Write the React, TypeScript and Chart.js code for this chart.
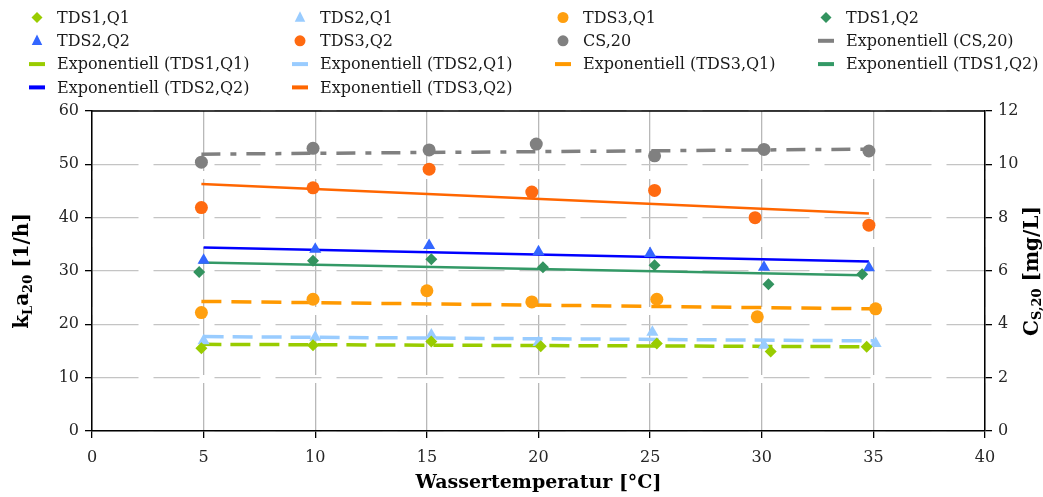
import React, { useEffect, useRef } from 'react';
import { Chart, registerables } from 'chart.js';

Chart.register(...registerables);

const FONT = '"DejaVu Serif", serif';

// ---- data ----
const xTDS1Q1 = [4.9, 9.9, 15.2, 20.1, 25.3, 30.4, 34.7];
const yTDS1Q1 = [15.5, 16.1, 16.8, 15.9, 16.4, 14.9, 15.8];
const xTDS2Q1 = [5.0, 10.0, 15.2, 20.0, 25.1, 30.1, 35.1];
const yTDS2Q1 = [16.9, 17.6, 18.0, 16.6, 18.5, 16.1, 16.4];
const xTDS3Q1 = [4.9, 9.9, 15.0, 19.7, 25.3, 29.8, 35.1];
const yTDS3Q1 = [22.2, 24.7, 26.3, 24.2, 24.7, 21.4, 22.9];
const xTDS1Q2 = [4.8, 9.9, 15.2, 20.2, 25.2, 30.3, 34.5];
const yTDS1Q2 = [29.8, 31.9, 32.2, 30.7, 31.1, 27.5, 29.4];
const xTDS2Q2 = [5.0, 10.0, 15.1, 20.0, 25.0, 30.1, 34.8];
const yTDS2Q2 = [32.0, 34.1, 34.8, 33.6, 33.3, 30.7, 30.6];
const xTDS3Q2 = [4.9, 9.9, 15.1, 19.7, 25.2, 29.7, 34.8];
const yTDS3Q2 = [41.9, 45.6, 49.1, 44.8, 45.1, 40.0, 38.6];
const xCS = [4.9, 9.9, 15.1, 19.9, 25.2, 30.1, 34.8];
const yCS = [10.08, 10.6, 10.54, 10.76, 10.32, 10.56, 10.5];

// exponential trend lines: value at the first and at the last temperature
const trendCS = [10.38, 10.57];
const trendTDS1Q1 = [16.25, 15.8];
const trendTDS2Q1 = [17.7, 16.9];
const trendTDS3Q1 = [24.3, 22.9];
const trendTDS1Q2 = [31.6, 29.2];
const trendTDS2Q2 = [34.4, 31.8];
const trendTDS3Q2 = [46.3, 40.8];

const xTicksStep = 5;
const yLeftRange = [0, 60];
const yRightRange = [0, 12];
const xRange = [0, 40];

const xTitle = 'Wassertemperatur [°C]';
const yLeftTitle = [
  { t: 'k', sub: false },
  { t: 'L', sub: true },
  { t: 'a', sub: false },
  { t: '20', sub: true },
  { t: ' [1/h]', sub: false },
];
const yRightTitle = [
  { t: 'C', sub: false },
  { t: 'S,20', sub: true },
  { t: ' [mg/L]', sub: false },
];

type Marker = {
  label: string; xs: number[]; ys: number[]; style: string; color: string; r: number; axis: string;
};
type Trend = {
  label: string; xs: number[]; t: number[]; color: string; width: number; dash: number[]; axis: string;
};

const markers: Marker[] = [
  { label: 'TDS1,Q1', xs: xTDS1Q1, ys: yTDS1Q1, style: 'rectRot', color: '#99cc00', r: 6, axis: 'y' },
  { label: 'TDS2,Q1', xs: xTDS2Q1, ys: yTDS2Q1, style: 'triangle', color: '#99ccff', r: 7, axis: 'y' },
  { label: 'TDS3,Q1', xs: xTDS3Q1, ys: yTDS3Q1, style: 'circle', color: '#ff9f0f', r: 6.5, axis: 'y' },
  { label: 'TDS1,Q2', xs: xTDS1Q2, ys: yTDS1Q2, style: 'rectRot', color: '#33935f', r: 6, axis: 'y' },
  { label: 'TDS2,Q2', xs: xTDS2Q2, ys: yTDS2Q2, style: 'triangle', color: '#3366ff', r: 7, axis: 'y' },
  { label: 'TDS3,Q2', xs: xTDS3Q2, ys: yTDS3Q2, style: 'circle', color: '#ff6a10', r: 6.5, axis: 'y' },
  { label: 'CS,20', xs: xCS, ys: yCS, style: 'circle', color: '#808080', r: 6.5, axis: 'y2' },
];

const trends: Trend[] = [
  { label: 'Exponentiell (CS,20)', xs: xCS, t: trendCS, color: '#808080', width: 3.5, dash: [19, 10, 6, 10], axis: 'y2' },
  { label: 'Exponentiell (TDS1,Q1)', xs: xTDS1Q1, t: trendTDS1Q1, color: '#99cc00', width: 3.5, dash: [20, 9], axis: 'y' },
  { label: 'Exponentiell (TDS2,Q1)', xs: xTDS2Q1, t: trendTDS2Q1, color: '#99ccff', width: 3.5, dash: [20, 9], axis: 'y' },
  { label: 'Exponentiell (TDS3,Q1)', xs: xTDS3Q1, t: trendTDS3Q1, color: '#ff9900', width: 3.5, dash: [20, 10], axis: 'y' },
  { label: 'Exponentiell (TDS1,Q2)', xs: xTDS1Q2, t: trendTDS1Q2, color: '#339966', width: 2.5, dash: [], axis: 'y' },
  { label: 'Exponentiell (TDS2,Q2)', xs: xTDS2Q2, t: trendTDS2Q2, color: '#0000ff', width: 2.5, dash: [], axis: 'y' },
  { label: 'Exponentiell (TDS3,Q2)', xs: xTDS3Q2, t: trendTDS3Q2, color: '#ff6600', width: 2.5, dash: [], axis: 'y' },
];

function drawShape(ctx: CanvasRenderingContext2D, style: string, x: number, y: number, r: number, color: string) {
  ctx.save();
  ctx.fillStyle = color;
  ctx.beginPath();
  if (style === 'circle') {
    ctx.arc(x, y, r, 0, Math.PI * 2);
  } else if (style === 'rectRot') {
    ctx.moveTo(x, y - r);
    ctx.lineTo(x + r, y);
    ctx.lineTo(x, y + r);
    ctx.lineTo(x - r, y);
    ctx.closePath();
  } else {
    const h = r * 1.5;
    ctx.moveTo(x, y - h * 0.6);
    ctx.lineTo(x + r * 0.75, y + h * 0.4);
    ctx.lineTo(x - r * 0.75, y + h * 0.4);
    ctx.closePath();
  }
  ctx.fill();
  ctx.restore();
}

function drawRich(ctx: CanvasRenderingContext2D, parts: { t: string; sub: boolean }[], size: number, subSize: number, subDrop: number) {
  const big = `bold ${size}px ${FONT}`;
  const small = `bold ${subSize}px ${FONT}`;
  let w = 0;
  parts.forEach((p) => {
    ctx.font = p.sub ? small : big;
    w += ctx.measureText(p.t).width;
  });
  let x = -w / 2;
  ctx.textBaseline = 'alphabetic';
  ctx.textAlign = 'left';
  parts.forEach((p) => {
    ctx.font = p.sub ? small : big;
    ctx.fillText(p.t, x, p.sub ? subDrop : 0);
    x += ctx.measureText(p.t).width;
  });
}

const customPlugin = {
  id: 'customDecor',
  afterDraw(chart: any) {
    const ctx: CanvasRenderingContext2D = chart.ctx;
    const a = chart.chartArea;
    // top frame line
    ctx.save();
    ctx.strokeStyle = '#000';
    ctx.lineWidth = 1.5;
    ctx.beginPath();
    ctx.moveTo(a.left, a.top);
    ctx.lineTo(a.right, a.top);
    ctx.stroke();
    ctx.restore();

    // axis titles with subscripts
    const cy = (a.top + a.bottom) / 2;
    ctx.save();
    ctx.fillStyle = '#000';
    ctx.translate(28, cy);
    ctx.rotate(-Math.PI / 2);
    drawRich(ctx, yLeftTitle, 20, 13, 4);
    ctx.restore();

    ctx.save();
    ctx.fillStyle = '#000';
    ctx.translate(chart.width - 5, cy);
    ctx.rotate(-Math.PI / 2);
    drawRich(ctx, yRightTitle, 20, 13, 3);
    ctx.restore();

    // legend in a 4-column grid
    const items: { label: string; kind: string; style?: string; color: string }[] = [];
    markers.forEach((m) => items.push({ label: m.label, kind: 'point', style: m.style, color: m.color }));
    trends.forEach((t) => items.push({ label: t.label, kind: 'line', color: t.color }));
    const colW = 263;
    const rowH = 23.3;
    ctx.save();
    ctx.font = `16px ${FONT}`;
    ctx.textBaseline = 'middle';
    ctx.textAlign = 'left';
    items.forEach((it, i) => {
      const c = i % 4;
      const r = Math.floor(i / 4);
      const mx = 37 + c * colW;
      const my = 17.5 + r * rowH;
      if (it.kind === 'point') {
        const rad = it.style === 'triangle' ? 7 : 5.5;
        drawShape(ctx, it.style as string, mx, my, rad, it.color);
      } else {
        ctx.fillStyle = it.color;
        ctx.fillRect(mx - 8, my - 2, 16, 4);
      }
      ctx.fillStyle = '#1a1a1a';
      ctx.fillText(it.label, mx + 20, my + 1);
    });
    ctx.restore();
  },
};

export default function App() {
  const ref = useRef<HTMLCanvasElement>(null);

  useEffect(() => {
    if (!ref.current) return;
    const datasets: any[] = [];
    markers.forEach((m) => {
      datasets.push({
        type: 'scatter',
        label: m.label,
        data: m.xs.map((x, i) => ({ x, y: m.ys[i] })),
        pointStyle: m.style,
        pointRadius: m.r,
        backgroundColor: m.color,
        borderColor: m.color,
        borderWidth: 0,
        showLine: false,
        yAxisID: m.axis,
        order: 0,
      });
    });
    trends.forEach((t) => {
      const x0 = Math.min(...t.xs);
      const x1 = Math.max(...t.xs);
      datasets.push({
        type: 'scatter',
        label: t.label,
        data: [
          { x: x0, y: t.t[0] },
          { x: x1, y: t.t[1] },
        ],
        showLine: true,
        pointRadius: 0,
        borderColor: t.color,
        backgroundColor: t.color,
        borderWidth: t.width,
        borderDash: t.dash,
        borderCapStyle: 'butt',
        fill: false,
        yAxisID: t.axis,
        order: 1,
      });
    });

    const tickFont = { family: FONT, size: 16 };
    const chart = new Chart(ref.current, {
      type: 'scatter',
      data: { datasets },
      options: {
        responsive: false,
        animation: false,
        devicePixelRatio: 1,
        layout: { padding: { top: 111, left: 0, right: 0, bottom: 0 } },
        plugins: {
          legend: { display: false },
          tooltip: { enabled: false },
        },
        scales: {
          x: {
            type: 'linear',
            min: xRange[0],
            max: xRange[1],
            ticks: { stepSize: xTicksStep, color: '#262626', font: tickFont, padding: 10 },
            grid: { color: '#b8b8b8', lineWidth: 1.3, tickColor: '#000', tickLength: 7, tickWidth: 1.3 },
            border: { color: '#000', width: 1.5, dash: [60, 8] },
            title: {
              display: true,
              text: xTitle,
              color: '#000',
              font: { family: FONT, size: 19, weight: 'bold' },
              padding: { top: 0, bottom: 3 },
            },
            afterFit: (s: any) => { s.height = 66; },
          },
          y: {
            type: 'linear',
            position: 'left',
            min: yLeftRange[0],
            max: yLeftRange[1],
            ticks: { stepSize: 10, color: '#262626', font: tickFont, padding: 6 },
            grid: { color: '#c4c4c4', lineWidth: 1.3, tickColor: '#000', tickLength: 7, tickWidth: 1.3 },
            border: { color: '#000', width: 1.5, dash: [46, 15] },
            afterFit: (s: any) => { s.width = 92; },
          },
          y2: {
            type: 'linear',
            position: 'right',
            min: yRightRange[0],
            max: yRightRange[1],
            ticks: { stepSize: 2, color: '#262626', font: tickFont, padding: 6 },
            grid: { drawOnChartArea: false, color: '#000', lineWidth: 1.3, tickColor: '#000', tickLength: 7 },
            border: { color: '#000', width: 1.5 },
            afterFit: (s: any) => { s.width = 58; },
          },
        },
      } as any,
      plugins: [customPlugin],
    });
    return () => chart.destroy();
  }, []);

  return (
    <div style={{ position: 'fixed', left: 0, top: 0, width: 1043, height: 497, background: '#fff' }}>
      <canvas ref={ref} width={1043} height={497} style={{ display: 'block' }} />
    </div>
  );
}
